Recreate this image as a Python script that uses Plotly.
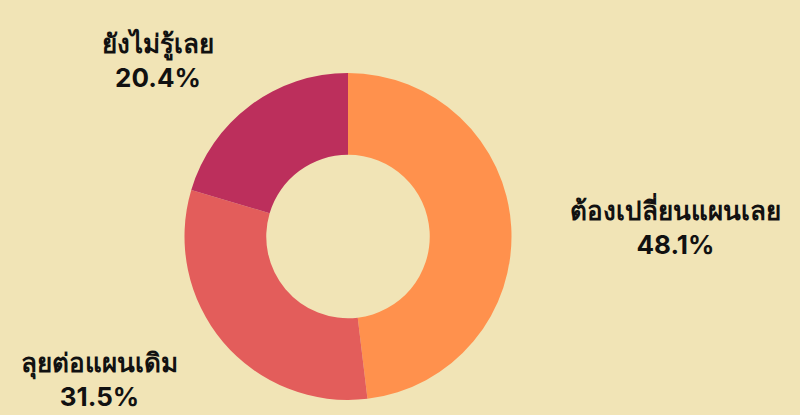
import math
import plotly.graph_objects as go

labels = ["ต้องเปลี่ยนแผนเลย", "ลุยต่อแผนเดิม", "ยังไม่รู้เลย"]
values = [48.1, 31.5, 20.4]
colors = ["#FF914D", "#E35D5B", "#BC2F5C"]

W, H = 800, 415
BG = "#F1E4B6"
# pie geometry (pixels)
cx, cy, r = 348, 236.5, 163.5
label_rx, label_ry_up, label_ry_down = 220, 177, 168

fig = go.Figure(go.Pie(
    labels=labels,
    values=values,
    hole=0.5,
    sort=False,
    direction="clockwise",
    rotation=0,
    marker=dict(colors=colors, line=dict(width=0)),
    textinfo="none",
    hoverinfo="label+percent",
    showlegend=False,
    domain=dict(x=[(cx - r) / W, (cx + r) / W], y=[(H - cy - r) / H, (H - cy + r) / H]),
))

total = sum(values)
cum = 0.0
for lab, v in zip(labels, values):
    theta = 2 * math.pi * (cum + v / 2) / total
    cum += v
    s, c = math.sin(theta), math.cos(theta)
    px = cx + label_rx * s
    py = cy - (label_ry_up if c > 0 else label_ry_down) * c
    xa = "left" if s > 0.3 else ("right" if s < -0.3 else "center")
    ya = "bottom" if c > 0.3 else ("top" if c < -0.3 else "middle")
    fig.add_annotation(
        x=px / W, y=1 - py / H, xref="paper", yref="paper",
        xanchor=xa, yanchor=ya, align="center", showarrow=False,
        text=f"<b>{lab}</b><br><b>{v / total * 100:.1f}%</b>",
        font=dict(family="Inter, 'Noto Sans', sans-serif", size=26, color="#111111"),
    )

fig.update_layout(
    width=W, height=H,
    paper_bgcolor=BG,
    plot_bgcolor=BG,
    margin=dict(l=0, r=0, t=0, b=0),
)

fig.write_html(
    "out.html",
    config={"displayModeBar": False},
    post_script="document.body.style.margin='0';document.body.style.background='#F1E4B6';",
)
